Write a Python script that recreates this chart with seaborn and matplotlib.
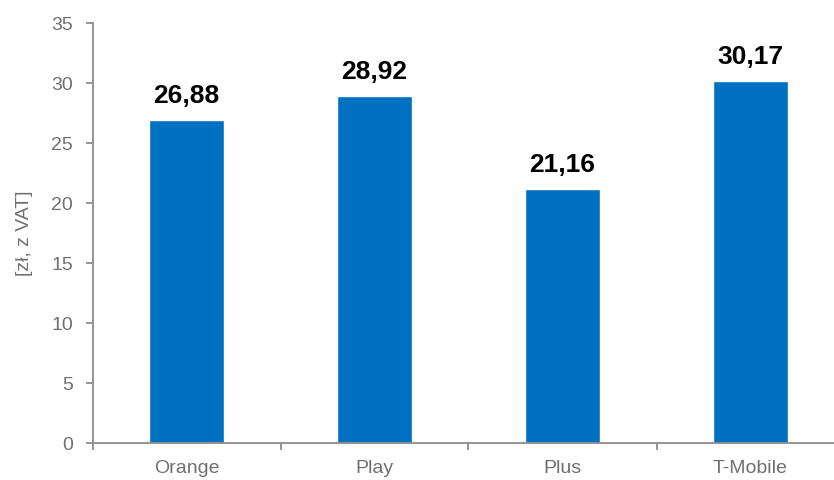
import matplotlib
matplotlib.use("Agg")
import matplotlib.pyplot as plt
import seaborn as sns
import pandas as pd
import numpy as np

categories = ["Orange", "Play", "Plus", "T-Mobile"]
values = [26.88, 28.92, 21.16, 30.17]
value_labels = ["26,88", "28,92", "21,16", "30,17"]
y_ticks = [0, 5, 10, 15, 20, 25, 30, 35]
y_label = "[zł, z VAT]"

sns.set_theme(style="white")
plt.rcParams['font.family'] = ['Liberation Sans', 'DejaVu Sans']

df = pd.DataFrame({"operator": categories, "value": values})

fig = plt.figure(figsize=(8.34, 4.8), dpi=100)
ax = fig.add_axes([92.5 / 834, 37 / 480, 752 / 834, 420 / 480])
sns.barplot(data=df, x="operator", y="value", color="#0070C0", width=0.40,
            saturation=1, ax=ax)

ax.set_xlim(-0.5, 3.5)
ax.set_ylim(0, 35)
ax.set_yticks(y_ticks)
ax.set_yticklabels([str(t) for t in y_ticks])

axis_col = "#8C8C8C"
text_col = "#707070"
for s in ["top", "right"]:
    ax.spines[s].set_visible(False)
for s in ["left", "bottom"]:
    ax.spines[s].set_color(axis_col)
    ax.spines[s].set_linewidth(1.3)

ax.tick_params(axis="y", which="major", direction="out", length=5, width=1.3,
               color=axis_col, labelcolor=text_col, labelsize=14, pad=9, left=True)
ax.tick_params(axis="x", which="major", length=0, labelcolor=text_col,
               labelsize=14, pad=12)
ax.set_xticks(np.arange(-0.5, 3.6, 1.0), minor=True)
ax.tick_params(axis="x", which="minor", direction="out", length=5, width=1.3,
               color=axis_col, bottom=True)

ax.set_xlabel("")
ax.set_ylabel(y_label, color=text_col, fontsize=14, labelpad=13)

for i, (v, lab) in enumerate(zip(values, value_labels)):
    ax.text(i, v + 1.45, lab, ha="center", va="baseline", fontsize=19,
            fontweight="bold", color="black")

fig.savefig("out.png", dpi=100)
